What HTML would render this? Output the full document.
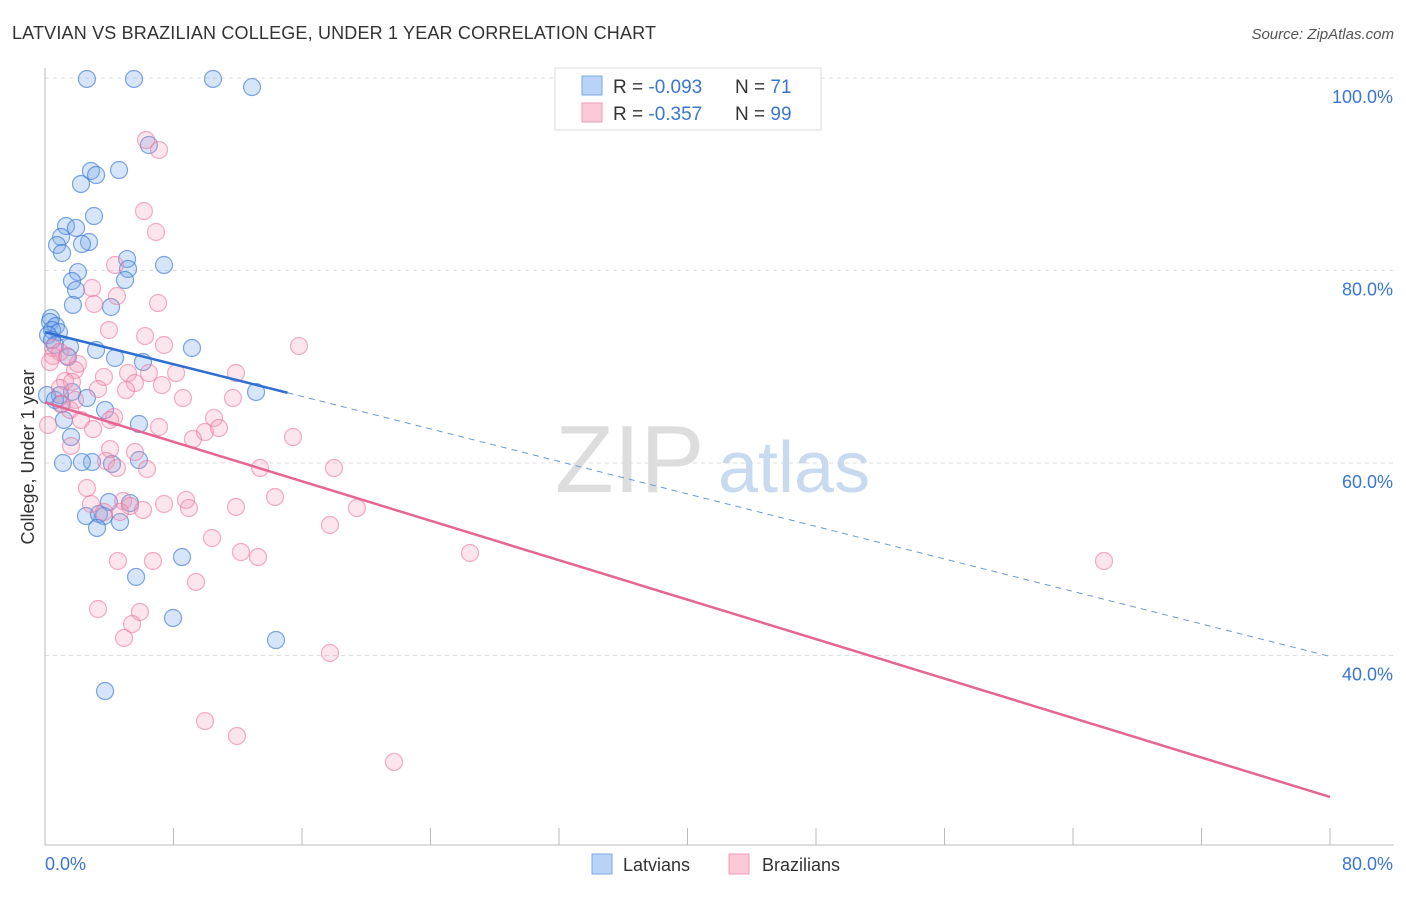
<!DOCTYPE html>
<html><head><meta charset="utf-8"><style>
body{margin:0;background:#fff;font-family:"Liberation Sans",sans-serif;}
svg text{font-family:"Liberation Sans",sans-serif;}
</style></head><body>
<svg id="chart" width="1406" height="892">
<text x="12" y="39" font-size="18" fill="#333" textLength="644">LATVIAN VS BRAZILIAN COLLEGE, UNDER 1 YEAR CORRELATION CHART</text>
<text x="1394" y="39" font-size="15" fill="#555" font-style="italic" text-anchor="end">Source: ZipAtlas.com</text>
<g id="grid"></g>
<text x="555" y="492" font-size="96" fill="#ddd" font-family="Liberation Serif">ZIP</text>
<text x="718" y="492" font-size="72" fill="#c8daf0">atlas</text>
<g id="pts"></g>
<g id="lines"></g>
<text transform="translate(34,457) rotate(-90)" font-size="18" fill="#333" text-anchor="middle">College, Under 1 year</text>
<g>
<rect x="555" y="68" width="266" height="62" fill="#fff" stroke="#ddd"/>
<rect x="582" y="76" width="20" height="19" fill="#b8d3f5" stroke="#7aa8e6"/>
<rect x="582" y="103" width="20" height="19" fill="#fbc9d8" stroke="#f09ab4"/>
<text x="613" y="93" font-size="19" fill="#333">R = <tspan fill="#3a76d0">-0.093</tspan></text>
<text x="735" y="93" font-size="19" fill="#333">N = <tspan fill="#3a76d0"> 71</tspan></text>
<text x="613" y="120" font-size="19" fill="#333">R = <tspan fill="#3a76d0"> -0.357</tspan></text>
<text x="735" y="120" font-size="19" fill="#333">N = <tspan fill="#3a76d0">99</tspan></text>
</g>
<g>
<rect x="592" y="854" width="20" height="20" fill="#b8d3f5" stroke="#7aa8e6"/>
<text x="623" y="871" font-size="18" fill="#333">Latvians</text>
<rect x="729" y="854" width="20" height="20" fill="#fbc9d8" stroke="#f09ab4"/>
<text x="762" y="871" font-size="18" fill="#333">Brazilians</text>
</g>
</svg>
<script>
const yTicks=[100,80,60,40];
const yTickLabels=["100.0%","80.0%","60.0%","40.0%"];
const xTickVals=[0,8,16,24,32,40,48,56,64,72,80];
const xLabels=["0.0%","80.0%"];
const latvianPx=[[87,79],[134,79],[213,79],[252,87],[149,145],[119,170],[91,171],[96,175],[81,184],[94,216],[66,226],[76,228],[61,237],[89,242],[82,244],[57,245],[62,253],[127,259],[128,269],[164,265],[78,272],[72,281],[125,280],[76,290],[73,305],[111,307],[51,318],[50,322],[56,326],[52,330],[59,332],[48,335],[52,340],[55,345],[70,347],[96,350],[68,357],[192,348],[115,358],[143,362],[256,392],[72,392],[60,395],[87,398],[61,404],[105,410],[139,424],[64,420],[71,437],[63,463],[92,462],[82,462],[112,464],[139,460],[109,502],[130,503],[86,516],[99,514],[104,516],[120,522],[97,528],[182,557],[136,577],[173,618],[276,640],[105,691],[47,395],[55,400]];
const brazilianPx=[[146,140],[159,150],[144,211],[156,232],[115,265],[117,296],[92,288],[94,304],[158,303],[109,330],[145,336],[164,345],[299,346],[53,348],[60,352],[53,356],[67,356],[50,362],[78,364],[75,370],[128,373],[104,377],[149,373],[176,373],[65,381],[72,382],[162,385],[60,388],[135,383],[126,390],[98,389],[236,373],[183,398],[233,398],[75,400],[62,404],[70,410],[214,418],[114,417],[110,420],[81,420],[93,429],[159,427],[205,432],[219,428],[193,439],[293,437],[71,446],[110,449],[135,452],[106,461],[117,468],[147,469],[260,468],[334,468],[87,488],[275,497],[91,504],[123,501],[164,504],[186,500],[189,508],[236,507],[130,506],[143,510],[120,512],[104,512],[357,508],[330,525],[212,538],[241,552],[258,557],[118,561],[153,561],[470,553],[1104,561],[196,582],[98,609],[140,612],[132,624],[124,638],[330,653],[205,721],[237,736],[394,762],[48,425]];
const toX=p=>(p-45)/16.0625, toY=p=>100-(p-78)/9.625;
const latX=latvianPx.map(p=>+toX(p[0]).toFixed(2)), latY=latvianPx.map(p=>+toY(p[1]).toFixed(2));
const braX=brazilianPx.map(p=>+toX(p[0]).toFixed(2)), braY=brazilianPx.map(p=>+toY(p[1]).toFixed(2));
const latTrend=[[0,73.6],[15.1,67.3],[80,39.9]];
const braTrend=[[0,66.3],[80,25.3]];
const X=v=>45+v*16.0625, Y=v=>78+(100-v)*9.625;
const NS="http://www.w3.org/2000/svg";
function mk(parent,tag,attrs){const e=document.createElementNS(NS,tag);for(const k in attrs)e.setAttribute(k,attrs[k]);document.getElementById(parent).appendChild(e);return e;}
yTicks.forEach((t,i)=>{
 const l=mk('grid','line',{x1:45,x2:1394,y1:Y(t),y2:Y(t),stroke:'#ddd','stroke-dasharray':'4,4'});
 
 
 const tx=mk('grid','text',{x:1393,y:Y(t)+25,'font-size':18,fill:'#3a76d0','text-anchor':'end'});
 tx.textContent=yTickLabels[i];
 
 
});
const ax=mk('grid','line',{x1:45,x2:45,y1:68,y2:845,stroke:'#bbb'});


const bx=mk('grid','line',{x1:45,x2:1394,y1:845,y2:845,stroke:'#bbb'});


xTickVals.forEach(v=>{
 const l=mk('grid','line',{x1:X(v),x2:X(v),y1:828,y2:845,stroke:'#bbb'});
 
 
});
[[0,'start',45],[80,'end',1393]].forEach((d,i)=>{
 const t=mk('grid','text',{x:d[2],y:870,'font-size':18,fill:'#3a76d0','text-anchor':d[1]});
 t.textContent=xLabels[i];
 
 
});
latX.forEach((x,i)=>{
 const c=mk('pts','circle',{cx:X(x),cy:Y(latY[i]),r:8.5,fill:'rgba(120,170,235,0.3)',stroke:'rgba(60,120,210,0.65)','stroke-width':1.2});
 
 
});
braX.forEach((x,i)=>{
 const c=mk('pts','circle',{cx:X(x),cy:Y(braY[i]),r:8.5,fill:'rgba(245,150,180,0.25)',stroke:'rgba(235,120,160,0.6)','stroke-width':1.2});
 
 
});
const t1=mk('lines','line',{x1:X(latTrend[0][0]),y1:Y(latTrend[0][1]),x2:X(latTrend[1][0]),y2:Y(latTrend[1][1]),stroke:'#2f6fd1','stroke-width':2.5});


const t2=mk('lines','line',{x1:X(latTrend[1][0]),y1:Y(latTrend[1][1]),x2:X(latTrend[2][0]),y2:Y(latTrend[2][1]),stroke:'#6a9ad8','stroke-width':1,'stroke-dasharray':'6,5'});


const t3=mk('lines','line',{x1:X(braTrend[0][0]),y1:Y(braTrend[0][1]),x2:X(braTrend[1][0]),y2:Y(braTrend[1][1]),stroke:'#e66592','stroke-width':2.5});


</script>
</body></html>
